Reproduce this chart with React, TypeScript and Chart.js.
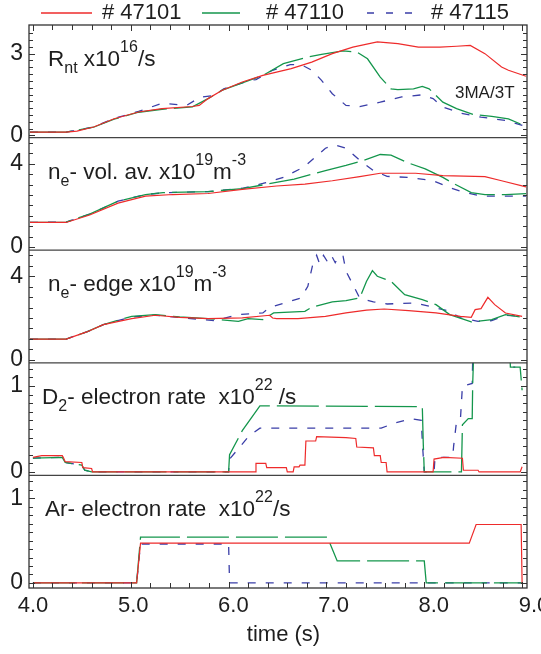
import React, { useEffect, useRef } from 'react';
import { Chart, registerables } from 'chart.js';

Chart.register(...registerables);

type Pt = [number, number];

const FONT = "'Liberation Sans', Arial, Helvetica, sans-serif";
const SHOTS = ['# 47101', '# 47110', '# 47115'];
const COLORS = ['#ee2b2b', '#14964c', '#3a3ea8'];
const DASHES: number[][] = [[], [42, 7], [8, 10]];

const TIME_TICKS = [4, 5, 6, 7, 8, 9];
const RNT_TICKS = [0, 3];
const NE_VOL_TICKS = [0, 4];
const NE_EDGE_TICKS = [0, 4];
const D2_TICKS = [0, 1];
const AR_TICKS = [0, 1];

// Panel 1: neutron rate Rnt (x1e16 /s)
const rnt47101: Pt[] = [[3.97,0.12],[4.34,0.12],[4.45,0.16],[4.62,0.31],[4.83,0.61],[5.08,0.86],[5.32,0.98],[5.63,1.06],[5.7,1.1],[5.79,1.35],[5.93,1.65],[6.14,1.96],[6.35,2.2],[6.64,2.45],[6.85,2.69],[7.06,3.0],[7.27,3.24],[7.52,3.43],[7.73,3.37],[7.94,3.24],[8.16,3.24],[8.33,3.27],[8.47,3.3],[8.62,3.0],[8.79,2.51],[8.86,2.39],[9.04,2.17]];
const rnt47110: Pt[] = [[3.97,0.12],[4.34,0.12],[4.62,0.3],[4.83,0.6],[5.08,0.85],[5.32,0.96],[5.63,1.05],[5.79,1.35],[5.93,1.65],[6.14,1.93],[6.35,2.2],[6.56,2.63],[6.81,2.88],[6.95,2.97],[7.17,3.1],[7.31,3.06],[7.42,2.81],[7.55,2.14],[7.66,1.71],[7.73,1.68],[7.89,1.71],[7.98,1.8],[8.05,1.71],[8.19,1.22],[8.33,0.98],[8.51,0.76],[8.69,0.7],[8.86,0.61],[9.04,0.33]];
const rnt47115: Pt[] = [[3.97,0.12],[4.34,0.12],[4.62,0.31],[4.83,0.62],[5.08,0.88],[5.32,1.18],[5.57,1.1],[5.71,1.4],[5.86,1.47],[5.95,1.71],[6.07,1.84],[6.2,2.0],[6.28,2.05],[6.45,2.39],[6.63,2.6],[6.74,2.6],[6.85,2.39],[6.95,2.02],[7.06,1.53],[7.2,1.1],[7.34,1.06],[7.55,1.22],[7.77,1.41],[7.98,1.49],[8.09,1.35],[8.19,1.04],[8.37,0.82],[8.58,0.67],[8.83,0.55],[9.04,0.33]];

// Panel 2: volume averaged density (x1e19 m^-3)
const neVol47101: Pt[] = [[3.97,1.18],[4.34,1.18],[4.58,1.54],[4.87,2.11],[5.15,2.44],[5.43,2.52],[5.79,2.57],[6.14,2.77],[6.49,2.93],[6.78,3.02],[7.06,3.18],[7.34,3.38],[7.55,3.54],[7.91,3.54],[8.19,3.43],[8.62,3.38],[8.79,3.18],[9.04,2.89]];
const neVol47110: Pt[] = [[3.97,1.18],[4.34,1.2],[4.58,1.58],[4.87,2.2],[5.15,2.52],[5.33,2.61],[5.79,2.66],[6.14,2.8],[6.35,2.98],[6.67,3.26],[6.99,3.67],[7.2,3.92],[7.38,4.16],[7.55,4.44],[7.66,4.41],[7.84,4.03],[8.01,3.75],[8.19,3.34],[8.3,3.05],[8.48,2.61],[8.62,2.52],[8.83,2.52],[9.04,2.56]];
const neVol47115: Pt[] = [[3.97,1.18],[4.34,1.2],[4.58,1.58],[4.87,2.2],[5.15,2.52],[5.33,2.6],[5.79,2.66],[6.14,2.82],[6.35,3.05],[6.56,3.34],[6.77,3.84],[6.99,4.74],[7.09,4.9],[7.2,4.74],[7.34,4.16],[7.48,3.67],[7.62,3.39],[7.84,3.34],[8.09,3.18],[8.26,2.85],[8.4,2.64],[8.58,2.44],[8.79,2.44],[9.04,2.44]];

// Panel 3: edge density (x1e19 m^-3)
const neEdge47101: Pt[] = [[3.97,0.99],[4.34,0.99],[4.55,1.33],[4.72,1.68],[5.01,1.97],[5.25,2.13],[5.5,2.03],[5.79,1.97],[6.14,2.0],[6.42,2.13],[6.45,2.0],[6.49,1.97],[6.71,1.97],[6.99,2.08],[7.2,2.24],[7.41,2.38],[7.59,2.43],[7.84,2.35],[8.12,2.24],[8.37,2.08],[8.48,2.03],[8.52,2.4],[8.58,2.45],[8.65,2.99],[8.72,2.64],[8.83,2.24],[9.0,2.08]];
const neEdge47110: Pt[] = [[3.97,0.99],[4.34,0.99],[4.55,1.33],[4.72,1.68],[5.01,2.08],[5.25,2.16],[5.5,2.05],[5.79,1.97],[6.1,1.84],[6.2,1.97],[6.35,1.92],[6.46,2.24],[6.78,2.32],[6.85,2.51],[7.06,2.77],[7.2,2.83],[7.34,2.96],[7.41,3.76],[7.47,4.27],[7.52,4.0],[7.66,3.76],[7.8,3.12],[7.98,2.88],[8.12,2.64],[8.26,2.16],[8.48,1.81],[8.69,1.92],[8.83,2.16],[9.0,2.03]];
const neEdge47115: Pt[] = [[3.97,0.99],[4.34,0.99],[4.55,1.33],[4.72,1.68],[5.01,2.05],[5.25,2.13],[5.5,2.02],[5.86,1.87],[6.1,2.16],[6.35,2.24],[6.42,2.51],[6.63,2.8],[6.74,2.96],[6.81,3.52],[6.86,4.56],[6.9,5.0],[6.93,4.6],[6.97,5.0],[7.01,4.7],[7.05,5.0],[7.09,4.65],[7.13,5.0],[7.17,4.96],[7.2,4.24],[7.27,3.6],[7.34,2.96],[7.48,2.77],[7.62,2.67],[7.91,2.72],[8.12,2.48],[8.26,2.32],[8.37,2.0],[8.55,1.84],[8.69,1.87],[8.83,2.13],[9.0,2.08]];

// Panel 4: D2 electron rate (x1e22 /s)
const d247101: Pt[] = [[4.0,0.17],[4.09,0.19],[4.3,0.19],[4.31,0.17],[4.33,0.12],[4.5,0.11],[4.51,0.05],[4.6,0.04],[4.61,0.0],[6.27,0.0],[6.28,0.1],[6.38,0.1],[6.39,0.05],[6.59,0.05],[6.6,0.0],[6.66,0.0],[6.67,0.06],[6.72,0.06],[6.73,0.08],[6.78,0.08],[6.79,0.36],[6.89,0.36],[6.9,0.41],[7.2,0.4],[7.3,0.39],[7.31,0.29],[7.48,0.28],[7.49,0.19],[7.55,0.19],[7.56,0.11],[7.61,0.11],[7.62,0.0],[8.09,0.0],[8.1,0.15],[8.2,0.17],[8.39,0.16],[8.4,0.02],[8.55,0.02],[8.56,0.0],[8.98,0.0],[9.0,0.06]];
const d247110: Pt[] = [[4.0,0.16],[4.3,0.17],[4.33,0.11],[4.5,0.08],[4.53,0.02],[4.6,0.0],[6.0,0.0],[6.01,0.2],[6.14,0.48],[6.32,0.77],[7.98,0.76],[7.99,0.32],[8.0,0.0],[8.38,0.0],[8.39,0.55],[8.45,0.62],[8.49,0.62],[8.495,1.03],[8.5,1.2],[8.51,1.6],[8.87,1.6],[8.88,1.22],[8.98,1.22],[9.0,0.95]];
const d247115: Pt[] = [[4.0,0.16],[4.3,0.17],[4.33,0.11],[4.5,0.08],[4.53,0.02],[4.6,0.0],[6.0,0.0],[6.01,0.15],[6.21,0.42],[6.32,0.51],[7.56,0.51],[7.7,0.57],[7.87,0.62],[7.97,0.6],[7.98,0.35],[8.0,0.0],[8.1,0.0],[8.11,0.17],[8.29,0.17],[8.3,0.3],[8.33,0.59],[8.37,0.62],[8.39,1.0],[8.49,1.03],[8.5,1.6],[8.87,1.6],[8.88,1.22],[8.93,1.22]];

// Panel 5: Ar electron rate (x1e22 /s)
const ar47101: Pt[] = [[4.0,0.0],[5.06,0.0],[5.1,0.47],[8.46,0.47],[8.53,0.69],[8.99,0.69],[9.0,0.0]];
const ar47110: Pt[] = [[4.0,0.0],[5.06,0.0],[5.1,0.54],[7.01,0.54],[7.11,0.26],[8.0,0.26],[8.02,0.0],[9.0,0.0]];
const ar47115: Pt[] = [[4.0,0.0],[5.06,0.0],[5.1,0.46],[6.0,0.46],[6.01,0.0],[9.0,0.0]];

type Part = [string, 'n' | 'sup' | 'sub'];

const PANELS = [
  { id: 'yRnt', min: -0.08, max: 4.05, ticks: RNT_TICKS, minor: 0.25, weight: 5, series: [rnt47101, rnt47110, rnt47115],
    label: [['R', 'n'], ['nt', 'sub'], [' x10', 'n'], ['16', 'sup'], ['/s', 'n']] as Part[], lx: 48 },
  { id: 'yNeVol', min: -0.15, max: 5.25, ticks: NE_VOL_TICKS, minor: 0.5, weight: 4, series: [neVol47101, neVol47110, neVol47115],
    label: [['n', 'n'], ['e', 'sub'], ['- vol. av. x10', 'n'], ['19', 'sup'], ['m', 'n'], ['-3', 'sup']] as Part[], lx: 48 },
  { id: 'yNeEdge', min: -0.15, max: 5.25, ticks: NE_EDGE_TICKS, minor: 0.5, weight: 3, series: [neEdge47101, neEdge47110, neEdge47115],
    label: [['n', 'n'], ['e', 'sub'], ['- edge x10', 'n'], ['19', 'sup'], ['m', 'n'], ['-3', 'sup']] as Part[], lx: 48 },
  { id: 'yD2', min: -0.04, max: 1.27, ticks: D2_TICKS, minor: 0.1, weight: 2, series: [d247101, d247110, d247115],
    label: [['D', 'n'], ['2', 'sub'], ['- electron rate  x10', 'n'], ['22', 'sup'], [' /s', 'n']] as Part[], lx: 42 },
  { id: 'yAr', min: -0.06, max: 1.27, ticks: AR_TICKS, minor: 0.1, weight: 1, series: [ar47101, ar47110, ar47115],
    label: [['Ar- electron rate  x10', 'n'], ['22', 'sup'], ['/s', 'n']] as Part[], lx: 45 },
];

function drawRich(ctx: CanvasRenderingContext2D, parts: Part[], x: number, y: number) {
  let cx = x;
  ctx.textBaseline = 'alphabetic';
  ctx.textAlign = 'left';
  for (const [text, kind] of parts) {
    const size = kind === 'n' ? 22.5 : 16;
    ctx.font = `${size}px ${FONT}`;
    const dy = kind === 'sup' ? -14 : kind === 'sub' ? 7 : 0;
    ctx.fillText(text, cx, y + dy);
    cx += ctx.measureText(text).width;
  }
}

const decorPlugin = {
  id: 'decor',
  afterDatasetsDraw(chart: any) {
    const { ctx, chartArea: a, scales } = chart;
    ctx.save();
    ctx.strokeStyle = '#333';
    ctx.lineWidth = 1;
    ctx.setLineDash([]);
    ctx.beginPath();
    for (const p of PANELS) {
      const s = scales[p.id];
      const k0 = Math.ceil(p.min / p.minor - 1e-6);
      const k1 = Math.floor(p.max / p.minor + 1e-6);
      for (let k = k0; k <= k1; k++) {
        const v = k * p.minor;
        const y = Math.round(s.getPixelForValue(v)) + 0.5;
        if (y < s.top + 2 || y > s.bottom - 1) continue;
        const major = p.ticks.some((t) => Math.abs(t - v) < 1e-6);
        const len = major ? 6 : 4;
        ctx.moveTo(a.left, y); ctx.lineTo(a.left + len, y);
        ctx.moveTo(a.right, y); ctx.lineTo(a.right - len, y);
      }
    }
    const xs = scales.x;
    for (let k = 0; k <= 25; k++) {
      const t = 4 + k * 0.2;
      const x = Math.round(xs.getPixelForValue(t)) + 0.5;
      const len = k % 5 === 0 ? 6 : 5;
      ctx.moveTo(x, a.top); ctx.lineTo(x, a.top + len);
      ctx.moveTo(x, a.bottom); ctx.lineTo(x, a.bottom - len);
    }
    ctx.stroke();
    ctx.lineWidth = 1.3;
    ctx.strokeStyle = '#444';
    ctx.beginPath();
    for (const p of PANELS.slice(0, 4)) {
      const s = scales[p.id];
      ctx.moveTo(a.left, s.bottom); ctx.lineTo(a.right, s.bottom);
    }
    ctx.stroke();
    ctx.lineWidth = 1.3;
    ctx.strokeStyle = '#333';
    ctx.strokeRect(a.left, a.top, a.right - a.left, a.bottom - a.top);

    // panel titles
    ctx.fillStyle = '#1e1e1e';
    for (const p of PANELS) {
      const s = scales[p.id];
      drawRich(ctx, p.label, p.lx, s.top + 41);
    }
    ctx.font = `17px ${FONT}`;
    ctx.textAlign = 'left';
    ctx.textBaseline = 'middle';
    ctx.fillText('3MA/3T', 455, scales.yRnt.top + 68);

    // axis title, centred under the printed time labels
    const xl = scales.xLab;
    const cx = (xl.getPixelForValue(TIME_TICKS[0]) + xl.getPixelForValue(TIME_TICKS[TIME_TICKS.length - 1])) / 2;
    ctx.font = `22px ${FONT}`;
    ctx.textAlign = 'center';
    ctx.textBaseline = 'middle';
    ctx.fillText('time (s)', cx, 635);

    // legend
    const lx = [[41, 92, 102], [202, 240, 266], [367, 413, 431]];
    ctx.textAlign = 'left';
    for (let i = 0; i < 3; i++) {
      ctx.strokeStyle = COLORS[i];
      ctx.lineWidth = 1.3;
      ctx.setLineDash(i === 2 ? [7, 12] : []);
      ctx.beginPath();
      ctx.moveTo(lx[i][0], 13); ctx.lineTo(lx[i][1], 13);
      ctx.stroke();
      ctx.setLineDash([]);
      ctx.fillStyle = '#1e1e1e';
      ctx.font = `22px ${FONT}`;
      ctx.textBaseline = 'middle';
      ctx.fillText(SHOTS[i], lx[i][2], 13);
    }
    ctx.restore();
  },
};

export default function App() {
  const ref = useRef<HTMLCanvasElement | null>(null);
  useEffect(() => {
    if (!ref.current) return;
    const datasets: any[] = [];
    for (const p of PANELS) {
      p.series.forEach((pts, i) => {
        datasets.push({
          label: `${SHOTS[i]} ${p.id}`,
          data: pts.map(([x, y]) => ({ x, y })),
          xAxisID: 'x',
          yAxisID: p.id,
          borderColor: COLORS[i],
          borderWidth: i === 0 ? 1.2 : 1.3,
          borderDash: DASHES[i],
          pointRadius: 0,
          fill: false,
          tension: 0,
        });
      });
    }
    const scales: any = {
      x: {
        type: 'linear',
        position: 'bottom',
        display: false,
        min: 3.96,
        max: 9.05,
      },
      // printed time labels (spread slightly wider than the tick marks, as in the original figure)
      xLab: {
        type: 'linear',
        position: 'bottom',
        min: 3.96,
        max: 8.93,
        afterBuildTicks: (s: any) => { s.ticks = TIME_TICKS.map((v) => ({ value: v })); },
        afterFit: (s: any) => { s.height = 66; s.paddingLeft = 0; s.paddingRight = 0; },
        grid: { display: false, drawTicks: false },
        border: { display: false },
        ticks: {
          autoSkip: false, maxRotation: 0, padding: 5,
          color: '#1e1e1e', font: { family: FONT, size: 22 },
          callback: (v: any) => Number(v).toFixed(1),
        },
      },
    };
    for (const p of PANELS) {
      scales[p.id] = {
        type: 'linear',
        position: 'left',
        stack: 'panels',
        stackWeight: 1,
        weight: p.weight,
        min: p.min,
        max: p.max,
        afterBuildTicks: (s: any) => { s.ticks = p.ticks.map((v) => ({ value: v })); },
        afterFit: (s: any) => { s.width = 29; },
        grid: { display: false, drawTicks: false },
        border: { display: false },
        ticks: {
          autoSkip: false, padding: 6,
          color: '#1e1e1e', font: { family: FONT, size: 23 },
          callback: (v: any) => String(v),
        },
      };
    }
    const chart = new Chart(ref.current, {
      type: 'line',
      data: { datasets },
      options: {
        animation: false,
        responsive: false,
        devicePixelRatio: 1,
        events: [],
        layout: { padding: { top: 25, right: 14, left: 0, bottom: 0 } },
        plugins: { legend: { display: false }, tooltip: { enabled: false } },
        scales,
      },
      plugins: [decorPlugin],
    } as any);
    return () => chart.destroy();
  }, []);
  return (
    <div style={{ position: 'absolute', left: 0, top: 0, width: 541, height: 654, background: '#fff' }}>
      <canvas ref={ref} width={541} height={654} style={{ display: 'block' }} />
    </div>
  );
}
